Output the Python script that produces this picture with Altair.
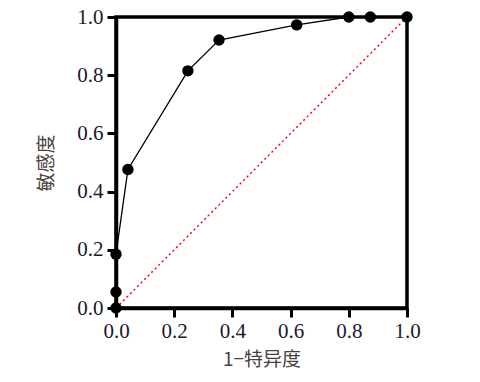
import altair as alt
import pandas as pd

fpr = [0.0, 0.0, 0.0, 0.041, 0.247, 0.354, 0.621, 0.80, 0.874, 1.0]
tpr = [0.0, 0.055, 0.185, 0.476, 0.815, 0.921, 0.973, 1.0, 1.0, 1.0]
order = list(range(len(fpr)))
ref_x = [0.0, 1.0]
ref_y = [0.0, 1.0]
ticks = [0.0, 0.2, 0.4, 0.6, 0.8, 1.0]

df = pd.DataFrame({"fpr": fpr, "tpr": tpr, "o": order})
ref = pd.DataFrame({"fpr": ref_x, "tpr": ref_y})

xs = alt.Scale(domain=[0, 1], nice=False, zero=False)
ys = alt.Scale(domain=[0, 1], nice=False, zero=False)

axis_common = dict(
    values=ticks, format=".1f", grid=False, labelFlush=False, labelOverlap=False,
    domainColor="black", domainWidth=3.5,
    tickColor="black", tickWidth=3, tickSize=9,
    labelFont="Liberation Serif, Times New Roman, serif", labelFontSize=21, labelColor="#1a1a2e",
    titleFont="Noto Sans CJK SC", titleFontSize=19, titleFontWeight="normal",
    titleColor="#4a4040",
)

x = alt.X("fpr:Q", scale=xs, axis=alt.Axis(title="1−特异度", labelPadding=3, titlePadding=9, **axis_common))
y = alt.Y("tpr:Q", scale=ys, axis=alt.Axis(title="敏感度", labelPadding=4, titlePadding=20, **axis_common))

diag = alt.Chart(ref).mark_line(color="red", strokeWidth=1.5, strokeDash=[2, 3]).encode(x=x, y=y)
line = alt.Chart(df).mark_line(color="black", strokeWidth=1.3).encode(x=x, y=y, order="o:Q")
pts = alt.Chart(df).mark_circle(color="black", opacity=1, size=130).encode(x=x, y=y)

chart = alt.layer(diag, line, pts).properties(
    width=291, height=291,
    background="white",
    autosize=alt.AutoSizeParams(type="none"),
    padding={"left": 108, "top": 9, "right": 65, "bottom": 66},
).configure_view(stroke="black", strokeWidth=3.5)

chart.save("out.html", embed_options={"renderer": "svg", "actions": False})
